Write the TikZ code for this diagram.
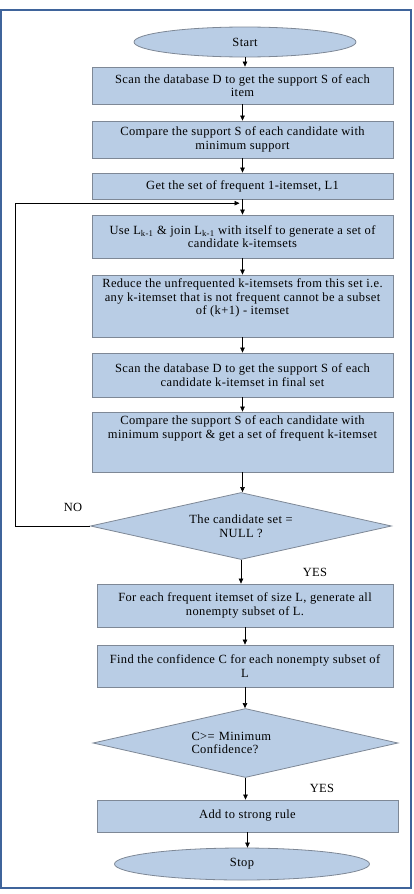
\documentclass[tikz,border=0pt]{standalone}
\usepackage{fontspec}
\setmainfont[LetterSpace=3]{Liberation Serif}
\usetikzlibrary{calc, arrows.meta, shapes.geometric}

\definecolor{boxfill}{HTML}{B9CDE5}
\definecolor{boxedge}{HTML}{7E8896}
\definecolor{framecol}{HTML}{3F649B}

% text set at the top of a fixed-height box
\newcommand{\topbox}[2]{\parbox[c][#1][t]{298pt}{\centering\vspace{4pt}#2}}

\begin{document}
\begin{tikzpicture}[x=1pt, y=-1pt,
  font=\fontsize{12.5}{13.5}\selectfont,
  procbox/.style={draw=boxedge, fill=boxfill, line width=0.8pt, align=center,
    minimum width=301pt, inner sep=0pt},
  termbox/.style={ellipse, draw=boxedge, fill=boxfill, line width=0.8pt, inner sep=0pt},
  testbox/.style={diamond, aspect=4.5, draw=boxedge, fill=boxfill, line width=0.8pt, inner sep=0pt},
  flow/.style={line width=0.6pt, -{Triangle[length=5pt, width=4.5pt]}}]
  \useasboundingbox (0,0) rectangle (413,894);
  \draw[framecol, line width=2.5pt] (1,10) rectangle (411,888);

  \node[termbox, minimum width=222pt, minimum height=30pt] (start) at (245,42) {Start};
  \node[procbox, minimum height=37pt] (b1) at (242.5,85.5)
    {Scan the database D to get the support S of each\\item};
  \node[procbox, minimum height=37pt] (b2) at (242.5,139.5)
    {Compare the support S of each candidate with\\minimum support};
  \node[procbox, minimum height=26pt] (b3) at (242.5,186)
    {Get the set of frequent 1-itemset, L1};
  \node[procbox, minimum height=43pt] (b4) at (242.5,236.5)
    {Use L\textsubscript{k-1} \& join L\textsubscript{k-1} with itself to generate a set of\\candidate k-itemsets};
  \node[procbox] (b5) at (242.5,306)
    {\topbox{62pt}{Reduce the unfrequented k-itemsets from this set i.e.\\any k-itemset that is not frequent cannot be a subset\\of (k+1) - itemset}};
  \node[procbox, minimum height=44pt] (b6) at (242.5,375)
    {Scan the database D to get the support S of each\\candidate k-itemset in final set};
  \node[procbox] (b7) at (242.5,442)
    {\topbox{60pt}{Compare the support S of each candidate with\\minimum support \& get a set of frequent k-itemset}};
  \node[testbox, minimum width=301pt, minimum height=67pt, align=center] (d1) at (241,526)
    {The candidate set =\\NULL ?};
  \node[procbox, minimum width=296pt, minimum height=43pt] (b8) at (245,605.5)
    {For each frequent itemset of size L, generate all\\nonempty subset of L.};
  \node[procbox, minimum width=296pt, minimum height=42pt] (b9) at (245,666)
    {Find the confidence C for each nonempty subset of\\L};
  \node[testbox, minimum width=305pt, minimum height=69pt, align=left, text width=108pt] (d2) at (245.5,743)
    {C>= Minimum\\Confidence?};
  \node[procbox, minimum height=32pt] (b10) at (247.5,816) {Add to strong rule};
  \node[termbox, minimum width=255pt, minimum height=32pt] (stop) at (242,864) {Stop};

  % main line
  \foreach \a/\b in {start/b1, b1/b2, b2/b3, b3/b4, b4/b5, b5/b6, b6/b7, b7/d1,
                     d1/b8, b8/b9, b9/d2, d2/b10, b10/stop}
    \draw[flow] (\a.south) -- (\a.south |- \b.north);

  % loop back when the candidate set is not empty
  \coordinate (join) at ($(b3.south)!0.25!(b3.south |- b4.north)$);
  \draw[flow, shorten >=3pt] (d1.west) -- ++(-75,0) |- (join);

  \node (no) at (73,507) {NO};
  \node (yes1) at (315,572) {YES};
  \node (yes2) at (322,788) {YES};
\end{tikzpicture}
\end{document}
